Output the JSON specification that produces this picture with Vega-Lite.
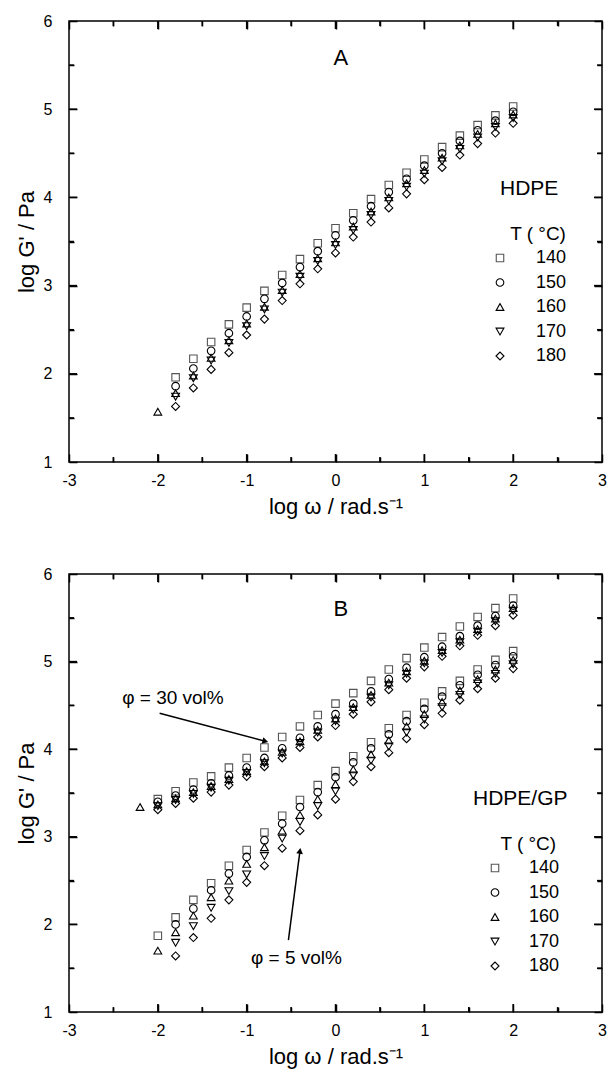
{
"$schema": "https://vega.github.io/schema/vega-lite/v6.json",
"padding": {"left": 14, "top": 12, "right": 5, "bottom": 5},
"spacing": 112,
"bounds": "flush",
"config": {
  "font": "Liberation Sans",
  "view": {"stroke": "black", "strokeWidth": 1.5},
  "axis": {"domain": false, "grid": false, "labelColor": "black", "titleColor": "black", "tickColor": "black", "tickWidth": 1.5, "labelFontSize": 16, "labelFont": "Liberation Sans", "titleFont": "Liberation Sans", "titleFontWeight": "normal", "titleFontSize": 22, "labelOverlap": false, "labelFlush": false, "labelBound": false},
  "legend": {"labelFont": "Liberation Sans"}
},
"datasets": {
  "Tk": [
    {"x": -2.5, "x2": -2.5, "y": 1, "y2": 1.056}, {"x": -2, "x2": -2, "y": 1, "y2": 1.09}, {"x": -1.5, "x2": -1.5, "y": 1, "y2": 1.056}, {"x": -1, "x2": -1, "y": 1, "y2": 1.09},
    {"x": -0.5, "x2": -0.5, "y": 1, "y2": 1.056}, {"x": 0, "x2": 0, "y": 1, "y2": 1.09}, {"x": 0.5, "x2": 0.5, "y": 1, "y2": 1.056}, {"x": 1, "x2": 1, "y": 1, "y2": 1.09},
    {"x": 1.5, "x2": 1.5, "y": 1, "y2": 1.056}, {"x": 2, "x2": 2, "y": 1, "y2": 1.09}, {"x": 2.5, "x2": 2.5, "y": 1, "y2": 1.056},
    {"x": -2.5, "x2": -2.5, "y": 6, "y2": 5.944}, {"x": -2, "x2": -2, "y": 6, "y2": 5.91}, {"x": -1.5, "x2": -1.5, "y": 6, "y2": 5.944}, {"x": -1, "x2": -1, "y": 6, "y2": 5.91},
    {"x": -0.5, "x2": -0.5, "y": 6, "y2": 5.944}, {"x": 0, "x2": 0, "y": 6, "y2": 5.91}, {"x": 0.5, "x2": 0.5, "y": 6, "y2": 5.944}, {"x": 1, "x2": 1, "y": 6, "y2": 5.91},
    {"x": 1.5, "x2": 1.5, "y": 6, "y2": 5.944}, {"x": 2, "x2": 2, "y": 6, "y2": 5.91}, {"x": 2.5, "x2": 2.5, "y": 6, "y2": 5.944},
    {"x": -3, "x2": -2.944, "y": 1.5, "y2": 1.5}, {"x": -3, "x2": -2.91, "y": 2, "y2": 2}, {"x": -3, "x2": -2.944, "y": 2.5, "y2": 2.5}, {"x": -3, "x2": -2.91, "y": 3, "y2": 3},
    {"x": -3, "x2": -2.944, "y": 3.5, "y2": 3.5}, {"x": -3, "x2": -2.91, "y": 4, "y2": 4}, {"x": -3, "x2": -2.944, "y": 4.5, "y2": 4.5}, {"x": -3, "x2": -2.91, "y": 5, "y2": 5},
    {"x": -3, "x2": -2.944, "y": 5.5, "y2": 5.5},
    {"x": 3, "x2": 2.944, "y": 1.5, "y2": 1.5}, {"x": 3, "x2": 2.91, "y": 2, "y2": 2}, {"x": 3, "x2": 2.944, "y": 2.5, "y2": 2.5}, {"x": 3, "x2": 2.91, "y": 3, "y2": 3},
    {"x": 3, "x2": 2.944, "y": 3.5, "y2": 3.5}, {"x": 3, "x2": 2.91, "y": 4, "y2": 4}, {"x": 3, "x2": 2.944, "y": 4.5, "y2": 4.5}, {"x": 3, "x2": 2.91, "y": 5, "y2": 5},
    {"x": 3, "x2": 2.944, "y": 5.5, "y2": 5.5}
  ],
  "A": [
    {"T": "140", "x": [-1.8,-1.6,-1.4,-1.2,-1,-0.8,-0.6,-0.4,-0.2,0,0.2,0.4,0.6,0.8,1,1.2,1.4,1.6,1.8,2], "y": [1.96,2.17,2.36,2.56,2.75,2.94,3.12,3.30,3.48,3.65,3.82,3.98,4.14,4.28,4.43,4.57,4.70,4.82,4.93,5.03]},
    {"T": "150", "x": [-1.8,-1.6,-1.4,-1.2,-1,-0.8,-0.6,-0.4,-0.2,0,0.2,0.4,0.6,0.8,1,1.2,1.4,1.6,1.8,2], "y": [1.86,2.06,2.26,2.46,2.65,2.85,3.03,3.21,3.39,3.57,3.74,3.90,4.06,4.21,4.36,4.50,4.64,4.76,4.87,4.97]},
    {"T": "160", "x": [-2,-1.8,-1.6,-1.4,-1.2,-1,-0.8,-0.6,-0.4,-0.2,0,0.2,0.4,0.6,0.8,1,1.2,1.4,1.6,1.8,2], "y": [1.57,1.78,1.98,2.18,2.38,2.57,2.76,2.95,3.13,3.31,3.49,3.67,3.84,4.00,4.16,4.31,4.45,4.59,4.72,4.84,4.94]},
    {"T": "170", "x": [-1.8,-1.6,-1.4,-1.2,-1,-0.8,-0.6,-0.4,-0.2,0,0.2,0.4,0.6,0.8,1,1.2,1.4,1.6,1.8,2], "y": [1.74,1.95,2.15,2.35,2.54,2.73,2.92,3.10,3.28,3.46,3.63,3.80,3.96,4.12,4.27,4.41,4.55,4.68,4.80,4.90]},
    {"T": "180", "x": [-1.8,-1.6,-1.4,-1.2,-1,-0.8,-0.6,-0.4,-0.2,0,0.2,0.4,0.6,0.8,1,1.2,1.4,1.6,1.8,2], "y": [1.63,1.84,2.05,2.24,2.44,2.62,2.83,3.02,3.19,3.37,3.55,3.72,3.88,4.04,4.20,4.34,4.48,4.61,4.73,4.84]}
  ],
  "B": [
    {"T": "140", "x": [-2,-1.8,-1.6,-1.4,-1.2,-1,-0.8,-0.6,-0.4,-0.2,0,0.2,0.4,0.6,0.8,1,1.2,1.4,1.6,1.8,2], "y": [3.43,3.52,3.62,3.69,3.79,3.90,4.02,4.14,4.26,4.39,4.52,4.64,4.78,4.91,5.04,5.16,5.28,5.40,5.51,5.61,5.72]},
    {"T": "150", "x": [-2,-1.8,-1.6,-1.4,-1.2,-1,-0.8,-0.6,-0.4,-0.2,0,0.2,0.4,0.6,0.8,1,1.2,1.4,1.6,1.8,2], "y": [3.40,3.47,3.54,3.61,3.70,3.79,3.90,4.01,4.13,4.26,4.40,4.52,4.66,4.80,4.93,5.05,5.17,5.29,5.41,5.52,5.64]},
    {"T": "160", "x": [-2.2,-2,-1.8,-1.6,-1.4,-1.2,-1,-0.8,-0.6,-0.4,-0.2,0,0.2,0.4,0.6,0.8,1,1.2,1.4,1.6,1.8,2], "y": [3.34,3.37,3.44,3.51,3.58,3.66,3.75,3.86,3.97,4.09,4.22,4.35,4.48,4.62,4.76,4.89,5.01,5.13,5.25,5.37,5.49,5.61]},
    {"T": "170", "x": [-2,-1.8,-1.6,-1.4,-1.2,-1,-0.8,-0.6,-0.4,-0.2,0,0.2,0.4,0.6,0.8,1,1.2,1.4,1.6,1.8,2], "y": [3.35,3.42,3.49,3.56,3.64,3.73,3.84,3.95,4.07,4.19,4.32,4.45,4.59,4.73,4.86,4.98,5.10,5.22,5.34,5.46,5.58]},
    {"T": "180", "x": [-2,-1.8,-1.6,-1.4,-1.2,-1,-0.8,-0.6,-0.4,-0.2,0,0.2,0.4,0.6,0.8,1,1.2,1.4,1.6,1.8,2], "y": [3.31,3.38,3.44,3.51,3.59,3.69,3.80,3.90,4.02,4.14,4.27,4.40,4.54,4.68,4.81,4.94,5.06,5.18,5.30,5.41,5.53]},
    {"T": "140", "x": [-2,-1.8,-1.6,-1.4,-1.2,-1,-0.8,-0.6,-0.4,-0.2,0,0.2,0.4,0.6,0.8,1,1.2,1.4,1.6,1.8,2], "y": [1.87,2.08,2.28,2.47,2.67,2.85,3.05,3.24,3.42,3.59,3.75,3.92,4.08,4.24,4.39,4.53,4.66,4.78,4.91,5.02,5.12]},
    {"T": "150", "x": [-1.8,-1.6,-1.4,-1.2,-1,-0.8,-0.6,-0.4,-0.2,0,0.2,0.4,0.6,0.8,1,1.2,1.4,1.6,1.8,2], "y": [2.00,2.18,2.39,2.58,2.77,2.96,3.15,3.34,3.51,3.68,3.85,4.01,4.17,4.32,4.46,4.60,4.73,4.85,4.96,5.06]},
    {"T": "160", "x": [-2,-1.8,-1.6,-1.4,-1.2,-1,-0.8,-0.6,-0.4,-0.2,0,0.2,0.4,0.6,0.8,1,1.2,1.4,1.6,1.8,2], "y": [1.70,1.91,2.10,2.31,2.50,2.69,2.88,3.07,3.25,3.43,3.60,3.77,3.94,4.10,4.26,4.40,4.54,4.67,4.80,4.91,5.02]},
    {"T": "170", "x": [-1.8,-1.6,-1.4,-1.2,-1,-0.8,-0.6,-0.4,-0.2,0,0.2,0.4,0.6,0.8,1,1.2,1.4,1.6,1.8,2], "y": [1.79,1.98,2.19,2.38,2.57,2.78,2.98,3.17,3.35,3.52,3.70,3.87,4.03,4.19,4.34,4.48,4.62,4.75,4.86,4.97]},
    {"T": "180", "x": [-1.8,-1.6,-1.4,-1.2,-1,-0.8,-0.6,-0.4,-0.2,0,0.2,0.4,0.6,0.8,1,1.2,1.4,1.6,1.8,2], "y": [1.64,1.85,2.07,2.28,2.48,2.67,2.87,3.07,3.25,3.43,3.63,3.80,3.96,4.12,4.28,4.41,4.56,4.69,4.81,4.92]}
  ],
  "At": [
    {"k": "P", "label": "A", "x": 0.06, "y": 5.58},
    {"k": "H", "label": "HDPE", "x": 2.18, "y": 4.10},
    {"k": "T", "label": "T ( °C)", "x": 2.28, "y": 3.585}
  ],
  "Bt": [
    {"k": "P", "label": "B", "x": 0.06, "y": 5.60},
    {"k": "H", "label": "HDPE/GP", "x": 2.08, "y": 3.43},
    {"k": "T", "label": "T ( °C)", "x": 2.17, "y": 2.92},
    {"k": "T", "label": "φ = 30 vol%", "x": -1.83, "y": 4.58},
    {"k": "T", "label": "φ = 5 vol%", "x": -0.44, "y": 1.62}
  ],
  "Ba": [
    {"id": "30", "x": -1.98, "y": 4.41, "x2": -0.79, "y2": 4.09},
    {"id": "5", "x": -0.53, "y": 1.82, "x2": -0.40, "y2": 2.84}
  ]
},
"resolve": {"scale": {"shape": "independent", "color": "independent", "size": "independent"}},
"vconcat": [
  {
    "width": 533, "height": 441,
    "resolve": {"axis": {"x": "independent", "y": "independent"}},
    "layer": [
      {
        "data": {"name": "A"},
        "transform": [{"flatten": ["x", "y"]}],
        "mark": {"type": "point", "filled": false, "strokeWidth": 1.1, "opacity": 1},
        "encoding": {
          "x": {"field": "x", "type": "quantitative", "scale": {"domain": [-3, 3], "nice": false, "zero": false},
            "axis": {"orient": "bottom", "values": [-3,-2,-1,0,1,2,3], "labelExpr": "'' + datum.value", "tickSize": 8, "offset": -8, "labelPadding": 10, "title": "log ω / rad.s⁻¹", "titlePadding": 8}},
          "y": {"field": "y", "type": "quantitative", "scale": {"domain": [1, 6], "nice": false, "zero": false},
            "axis": {"orient": "left", "values": [1,2,3,4,5,6], "labelExpr": "'' + datum.value", "tickSize": 8, "offset": -8, "labelPadding": 17, "title": "log G' / Pa", "titlePadding": 5}},
          "shape": {"field": "T", "type": "nominal", "scale": {"domain": ["140","150","160","170","180"], "range": ["square","circle","triangle-up","triangle-down","diamond"]},
            "legend": {"orient": "none", "legendX": 422, "legendY": 228, "title": null, "padding": 0, "labelFontSize": 18, "labelColor": "black", "symbolStrokeWidth": 1.1, "labelOffset": 27, "rowPadding": 6.5}},
          "color": {"field": "T", "type": "nominal", "scale": {"domain": ["140","150","160","170","180"], "range": ["#555555","#000000","#000000","#000000","#000000"]},
            "legend": {"orient": "none", "legendX": 422, "legendY": 228, "title": null, "padding": 0, "labelFontSize": 18, "labelColor": "black", "symbolStrokeWidth": 1.1, "labelOffset": 27, "rowPadding": 6.5}},
          "size": {"field": "T", "type": "nominal", "scale": {"domain": ["140","150","160","170","180"], "range": [56, 64, 90, 90, 100]},
            "legend": {"orient": "none", "legendX": 422, "legendY": 228, "title": null, "padding": 0, "labelFontSize": 18, "labelColor": "black", "symbolStrokeWidth": 1.1, "labelOffset": 27, "rowPadding": 6.5}}
        }
      },
      {
        "data": {"name": "At"},
        "transform": [{"filter": "datum.k === 'P'"}],
        "mark": {"type": "text", "fontSize": 22, "color": "black", "font": "Liberation Sans"},
        "encoding": {
          "x": {"field": "x", "type": "quantitative", "scale": {"domain": [-3, 3], "nice": false, "zero": false},
            "axis": {"orient": "top", "values": [-3,-2,-1,0,1,2,3], "labels": false, "tickSize": 8, "offset": -8, "title": null}},
          "y": {"field": "y", "type": "quantitative", "scale": {"domain": [1, 6], "nice": false, "zero": false},
            "axis": {"orient": "right", "values": [1,2,3,4,5,6], "labels": false, "tickSize": 8, "offset": -8, "title": null}},
          "text": {"field": "label"}
        }
      },
      {
        "data": {"name": "At"},
        "transform": [{"filter": "datum.k === 'H'"}],
        "mark": {"type": "text", "fontSize": 21, "color": "black", "font": "Liberation Sans"},
        "encoding": {
          "x": {"field": "x", "type": "quantitative", "scale": {"domain": [-3, 3], "nice": false, "zero": false},
            "axis": {"orient": "bottom", "values": [-2.5,-1.5,-0.5,0.5,1.5,2.5], "labels": false, "tickSize": 5, "offset": -5, "title": null}},
          "y": {"field": "y", "type": "quantitative", "scale": {"domain": [1, 6], "nice": false, "zero": false},
            "axis": {"orient": "left", "values": [1.5,2.5,3.5,4.5,5.5], "labels": false, "tickSize": 5, "offset": -5, "title": null}},
          "text": {"field": "label"}
        }
      },
      {
        "data": {"name": "At"},
        "transform": [{"filter": "datum.k === 'T'"}],
        "mark": {"type": "text", "fontSize": 19, "color": "black", "font": "Liberation Sans"},
        "encoding": {
          "x": {"field": "x", "type": "quantitative", "scale": {"domain": [-3, 3], "nice": false, "zero": false},
            "axis": {"orient": "top", "values": [-2.5,-1.5,-0.5,0.5,1.5,2.5], "labels": false, "tickSize": 5, "offset": -5, "title": null}},
          "y": {"field": "y", "type": "quantitative", "scale": {"domain": [1, 6], "nice": false, "zero": false},
            "axis": {"orient": "right", "values": [1.5,2.5,3.5,4.5,5.5], "labels": false, "tickSize": 5, "offset": -5, "title": null}},
          "text": {"field": "label"}
        }
      },
      {
        "data": {"name": "Tk"},
        "mark": {"type": "rule", "color": "black", "strokeWidth": 1.5},
        "encoding": {
          "x": {"field": "x", "type": "quantitative", "scale": {"domain": [-3, 3], "nice": false, "zero": false}, "axis": null},
          "y": {"field": "y", "type": "quantitative", "scale": {"domain": [1, 6], "nice": false, "zero": false}, "axis": null},
          "x2": {"field": "x2"},
          "y2": {"field": "y2"}
        }
      }
    ]
  },
  {
    "width": 533, "height": 438,
    "resolve": {"axis": {"x": "independent", "y": "independent"}},
    "layer": [
      {
        "data": {"name": "B"},
        "transform": [{"flatten": ["x", "y"]}],
        "mark": {"type": "point", "filled": false, "strokeWidth": 1.1, "opacity": 1},
        "encoding": {
          "x": {"field": "x", "type": "quantitative", "scale": {"domain": [-3, 3], "nice": false, "zero": false},
            "axis": {"orient": "bottom", "values": [-3,-2,-1,0,1,2,3], "labelExpr": "'' + datum.value", "tickSize": 8, "offset": -8, "labelPadding": 10, "title": "log ω / rad.s⁻¹", "titlePadding": 8}},
          "y": {"field": "y", "type": "quantitative", "scale": {"domain": [1, 6], "nice": false, "zero": false},
            "axis": {"orient": "left", "values": [1,2,3,4,5,6], "labelExpr": "'' + datum.value", "tickSize": 8, "offset": -8, "labelPadding": 17, "title": "log G' / Pa", "titlePadding": 5}},
          "shape": {"field": "T", "type": "nominal", "scale": {"domain": ["140","150","160","170","180"], "range": ["square","circle","triangle-up","triangle-down","diamond"]},
            "legend": {"orient": "none", "legendX": 417, "legendY": 285, "title": null, "padding": 0, "labelFontSize": 18, "labelColor": "black", "symbolStrokeWidth": 1.1, "labelOffset": 25, "rowPadding": 6.5}},
          "color": {"field": "T", "type": "nominal", "scale": {"domain": ["140","150","160","170","180"], "range": ["#555555","#000000","#000000","#000000","#000000"]},
            "legend": {"orient": "none", "legendX": 417, "legendY": 285, "title": null, "padding": 0, "labelFontSize": 18, "labelColor": "black", "symbolStrokeWidth": 1.1, "labelOffset": 25, "rowPadding": 6.5}},
          "size": {"field": "T", "type": "nominal", "scale": {"domain": ["140","150","160","170","180"], "range": [56, 64, 90, 90, 100]},
            "legend": {"orient": "none", "legendX": 417, "legendY": 285, "title": null, "padding": 0, "labelFontSize": 18, "labelColor": "black", "symbolStrokeWidth": 1.1, "labelOffset": 25, "rowPadding": 6.5}}
        }
      },
      {
        "data": {"name": "Bt"},
        "transform": [{"filter": "datum.k === 'P'"}],
        "mark": {"type": "text", "fontSize": 22, "color": "black", "font": "Liberation Sans"},
        "encoding": {
          "x": {"field": "x", "type": "quantitative", "scale": {"domain": [-3, 3], "nice": false, "zero": false},
            "axis": {"orient": "top", "values": [-3,-2,-1,0,1,2,3], "labels": false, "tickSize": 8, "offset": -8, "title": null}},
          "y": {"field": "y", "type": "quantitative", "scale": {"domain": [1, 6], "nice": false, "zero": false},
            "axis": {"orient": "right", "values": [1,2,3,4,5,6], "labels": false, "tickSize": 8, "offset": -8, "title": null}},
          "text": {"field": "label"}
        }
      },
      {
        "data": {"name": "Bt"},
        "transform": [{"filter": "datum.k === 'H'"}],
        "mark": {"type": "text", "fontSize": 21, "color": "black", "font": "Liberation Sans"},
        "encoding": {
          "x": {"field": "x", "type": "quantitative", "scale": {"domain": [-3, 3], "nice": false, "zero": false},
            "axis": {"orient": "bottom", "values": [-2.5,-1.5,-0.5,0.5,1.5,2.5], "labels": false, "tickSize": 5, "offset": -5, "title": null}},
          "y": {"field": "y", "type": "quantitative", "scale": {"domain": [1, 6], "nice": false, "zero": false},
            "axis": {"orient": "left", "values": [1.5,2.5,3.5,4.5,5.5], "labels": false, "tickSize": 5, "offset": -5, "title": null}},
          "text": {"field": "label"}
        }
      },
      {
        "data": {"name": "Bt"},
        "transform": [{"filter": "datum.k === 'T'"}],
        "mark": {"type": "text", "fontSize": 19, "color": "black", "font": "Liberation Sans"},
        "encoding": {
          "x": {"field": "x", "type": "quantitative", "scale": {"domain": [-3, 3], "nice": false, "zero": false},
            "axis": {"orient": "top", "values": [-2.5,-1.5,-0.5,0.5,1.5,2.5], "labels": false, "tickSize": 5, "offset": -5, "title": null}},
          "y": {"field": "y", "type": "quantitative", "scale": {"domain": [1, 6], "nice": false, "zero": false},
            "axis": {"orient": "right", "values": [1.5,2.5,3.5,4.5,5.5], "labels": false, "tickSize": 5, "offset": -5, "title": null}},
          "text": {"field": "label"}
        }
      },
      {
        "data": {"name": "Ba"},
        "mark": {"type": "rule", "color": "black", "strokeWidth": 1.5},
        "encoding": {
          "x": {"field": "x", "type": "quantitative", "scale": {"domain": [-3, 3], "nice": false, "zero": false}, "axis": null},
          "y": {"field": "y", "type": "quantitative", "scale": {"domain": [1, 6], "nice": false, "zero": false}, "axis": null},
          "x2": {"field": "x2"},
          "y2": {"field": "y2"}
        }
      },
      {
        "data": {"name": "Tk"},
        "mark": {"type": "rule", "color": "black", "strokeWidth": 1.5},
        "encoding": {
          "x": {"field": "x", "type": "quantitative", "scale": {"domain": [-3, 3], "nice": false, "zero": false}, "axis": null},
          "y": {"field": "y", "type": "quantitative", "scale": {"domain": [1, 6], "nice": false, "zero": false}, "axis": null},
          "x2": {"field": "x2"},
          "y2": {"field": "y2"}
        }
      },
      {
        "data": {"name": "Ba"},
        "transform": [{"filter": "datum.id === '30'"}],
        "mark": {"type": "point", "shape": "triangle-right", "filled": true, "color": "black", "size": 45, "angle": 15, "opacity": 1},
        "encoding": {
          "x": {"field": "x2", "type": "quantitative", "scale": {"domain": [-3, 3], "nice": false, "zero": false}, "axis": null},
          "y": {"field": "y2", "type": "quantitative", "scale": {"domain": [1, 6], "nice": false, "zero": false}, "axis": null}
        }
      },
      {
        "data": {"name": "Ba"},
        "transform": [{"filter": "datum.id === '5'"}],
        "mark": {"type": "point", "shape": "triangle-right", "filled": true, "color": "black", "size": 45, "angle": -82, "opacity": 1},
        "encoding": {
          "x": {"field": "x2", "type": "quantitative", "scale": {"domain": [-3, 3], "nice": false, "zero": false}, "axis": null},
          "y": {"field": "y2", "type": "quantitative", "scale": {"domain": [1, 6], "nice": false, "zero": false}, "axis": null}
        }
      }
    ]
  }
]
}
